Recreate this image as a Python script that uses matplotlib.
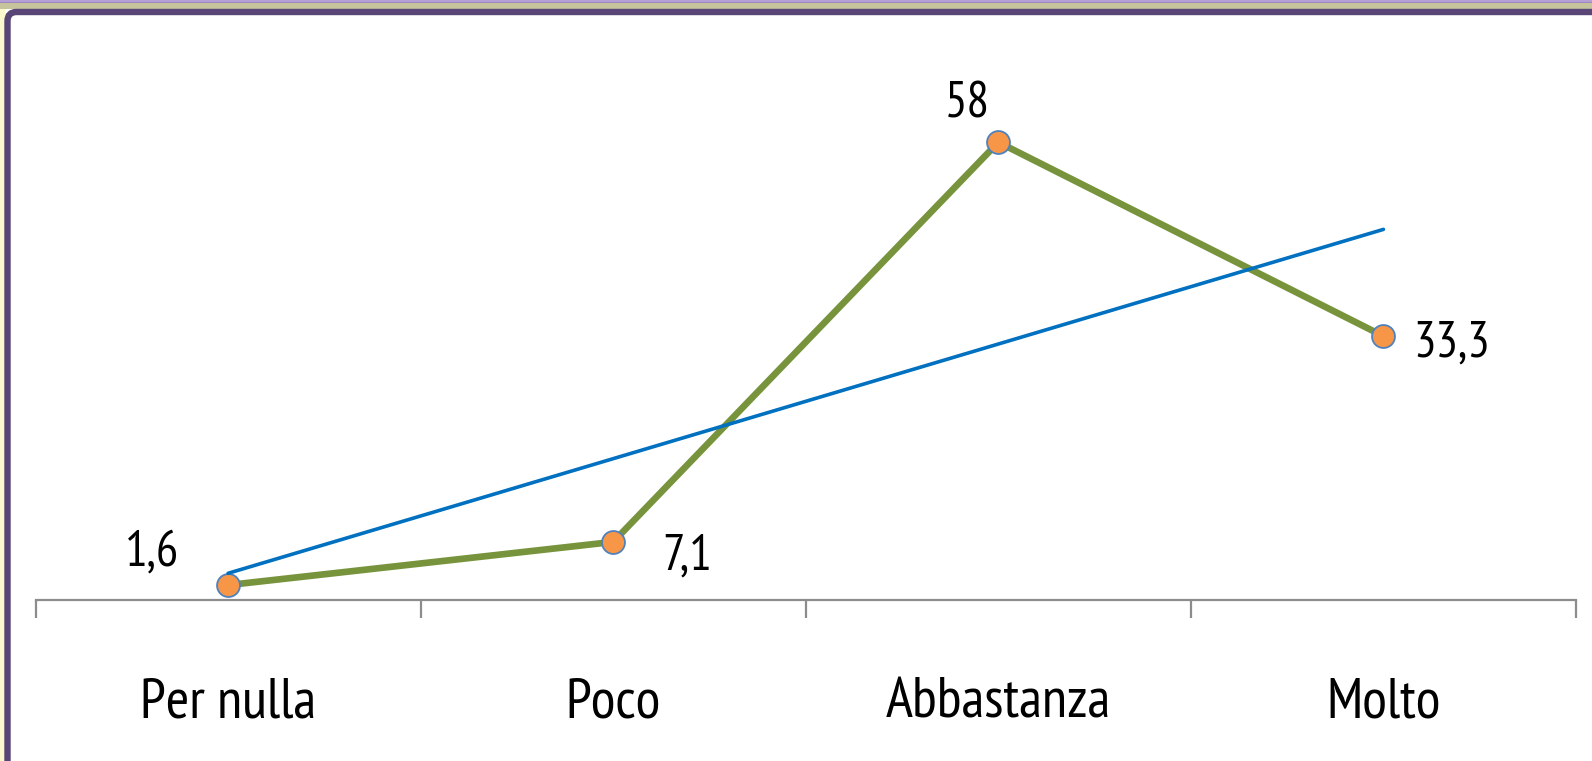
import matplotlib
matplotlib.use("Agg")
import matplotlib.pyplot as plt
import numpy as np
from matplotlib.patches import Rectangle, FancyBboxPatch
from matplotlib.transforms import blended_transform_factory

# Data
categories = ["Per nulla", "Poco", "Abbastanza", "Molto"]
values = [1.6, 7.1, 58, 33.3]
value_labels = ["1,6", "7,1", "58", "33,3"]
# label offsets (points) relative to each marker
label_offsets = [(-55, 14), (53, -20), (-22, 18), (49, -15)]

W, H = 1592, 761
fig = plt.figure(figsize=(W / 100, H / 100), dpi=100, facecolor="white")

font = ["PT Sans Narrow", "Carlito", "DejaVu Sans"]

# Window frame decoration (pixel coordinates, origin bottom-left)
def px_rect(x0, ytop, w, h, color):
    fig.patches.append(Rectangle((x0, H - ytop - h), w, h, transform=None,
                                 facecolor=color, edgecolor="none", zorder=0))

px_rect(0, 0, W, 3, "#b6a1d6")
px_rect(0, 2.4, W, 0.8, "#9b86c0")
px_rect(0, 3.2, W, 5.3, "#c6c49d")
px_rect(0, 8.5, 5, H, "#fdf9cf")
frame = FancyBboxPatch((7.5, -60), W + 100, H - 12 + 60, transform=None,
                       boxstyle="round,pad=0,rounding_size=9",
                       facecolor="white", edgecolor="#594576",
                       linewidth=4.6, zorder=1)
fig.patches.append(frame)

# Plot area
left, right, bottom_px, top_px = 35.5, 1576, 600, 48
ax = fig.add_axes([left / W, (H - bottom_px) / H, (right - left) / W,
                   (bottom_px - top_px) / H])
ax.set_facecolor("none")
ax.set_zorder(2)

x = np.arange(1, len(categories) + 1)

# Linear trend line
slope, intercept = np.polyfit(x, values, 1)
ax.plot([x[0], x[-1]], [intercept + slope * x[0], intercept + slope * x[-1]],
        color="#0070c0", linewidth=2.6, solid_capstyle="round", zorder=4)

# Main series
ax.plot(x, values, color="#77933c", linewidth=4.8, zorder=3,
        solid_joinstyle="miter")
ax.plot(x, values, linestyle="none", marker="o", markersize=16.5,
        markerfacecolor="#f79646", markeredgecolor="#4f81bd",
        markeredgewidth=1.3, zorder=3.5)

for xi, v, lab, off in zip(x, values, value_labels, label_offsets):
    ax.annotate(lab, (xi, v), xytext=off, textcoords="offset points",
                ha="center", va="baseline", fontsize=36, family=font,
                color="black", zorder=5)

ax.set_xlim(0.5, len(categories) + 0.5)
ax.set_ylim(-0.3, 70)

for side in ("top", "right", "left"):
    ax.spines[side].set_visible(False)
ax.spines["bottom"].set_color("#8c8c8c")
ax.spines["bottom"].set_linewidth(1.6)
ax.set_yticks([])
ax.set_xticks(np.arange(0.5, len(categories) + 1, 1.0))
ax.set_xticklabels([])
ax.tick_params(axis="x", direction="out", length=13, width=1.6,
               color="#8c8c8c")

trans = blended_transform_factory(ax.transData, ax.transAxes)
for xi, cat in zip(x, categories):
    ax.text(xi, -118 / (bottom_px - top_px), cat, transform=trans,
            ha="center", va="baseline", fontsize=41, family=font,
            color="black")

fig.savefig("out.png", dpi=100, facecolor="white")
